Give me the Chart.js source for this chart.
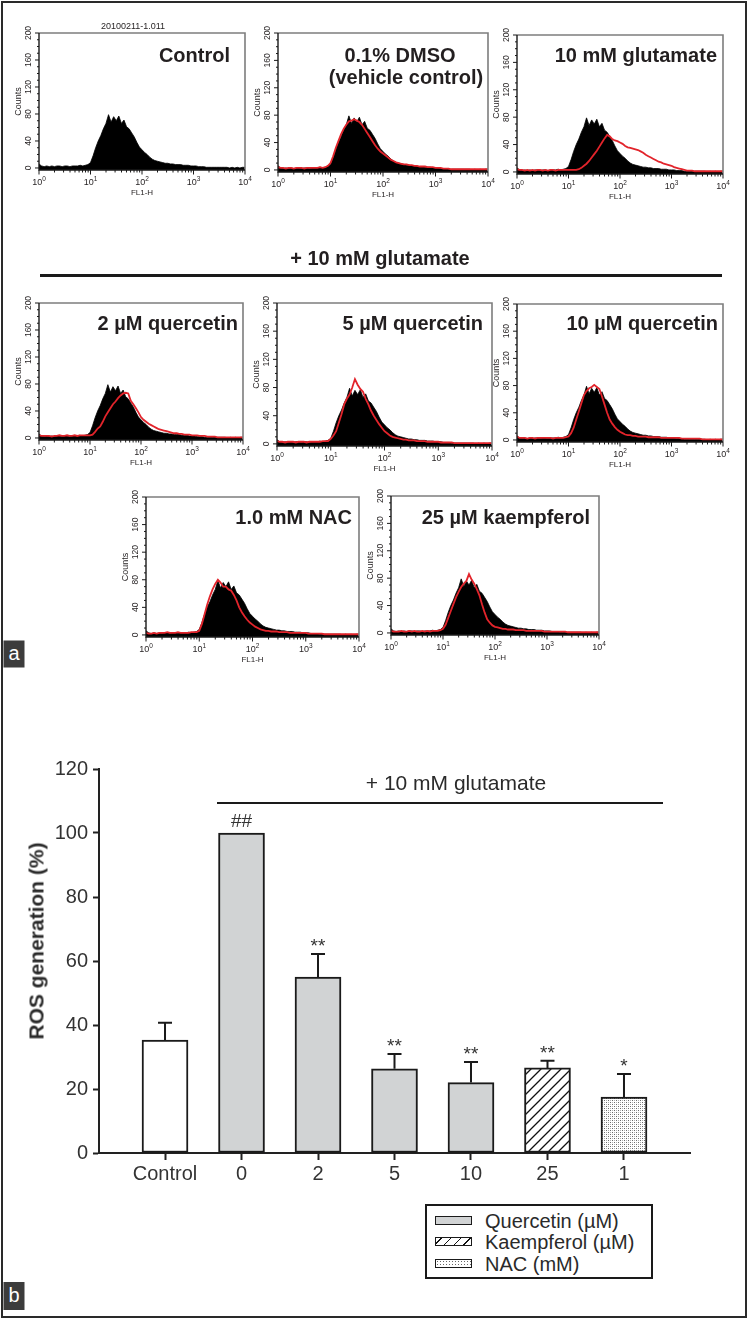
<!DOCTYPE html>
<html><head><meta charset="utf-8">
<script src="https://cdn.jsdelivr.net/npm/chart.js@4.4.1/dist/chart.umd.min.js"></script>
<style>
body{margin:0;background:#fff;}
#page{position:relative;width:748px;height:1320px;overflow:hidden;background:#fff;font-family:"Liberation Sans",Arial,sans-serif;color:#231f20;}
canvas{position:absolute;}
.t{position:absolute;white-space:nowrap;line-height:1;}
.c{transform:translate(-50%,-50%);}
.r{transform:translateY(-50%);}
.lab{font-weight:bold;font-size:20px;}
.sw{position:absolute;width:35px;height:7px;border:1.5px solid #1a1a1a;}
.lg{position:absolute;font-size:20px;line-height:1;white-space:nowrap;color:#2a2a2a;transform:translateY(-50%);}
</style></head><body><div id="page">
<div style="position:absolute;left:1px;top:1px;width:742px;height:1313px;border:2px solid #2a2a2a;"></div>

<canvas id="h1"></canvas><canvas id="h2"></canvas><canvas id="h3"></canvas>
<canvas id="h4"></canvas><canvas id="h5"></canvas><canvas id="h6"></canvas>
<canvas id="h7"></canvas><canvas id="h8"></canvas>
<canvas id="bars" width="748" height="460" style="left:0;top:740px;"></canvas>

<div class="t c" style="left:133px;top:26px;font-size:9px;">20100211-1.011</div>
<div class="t r lab" style="right:518px;top:55px;">Control</div>
<div class="t c lab" style="left:400px;top:55px;">0.1% DMSO</div>
<div class="t c lab" style="left:406px;top:77px;">(vehicle control)</div>
<div class="t r lab" style="right:31px;top:55px;">10 mM glutamate</div>
<div class="t r lab" style="right:510px;top:323px;">2 µM quercetin</div>
<div class="t r lab" style="right:265px;top:323px;">5 µM quercetin</div>
<div class="t r lab" style="right:30px;top:323px;">10 µM quercetin</div>
<div class="t r lab" style="right:396px;top:517px;">1.0 mM NAC</div>
<div class="t r lab" style="right:158px;top:517px;">25 µM kaempferol</div>

<div class="t c" style="left:380px;top:258px;font-size:20px;font-weight:bold;">+ 10 mM glutamate</div>
<div style="position:absolute;left:40px;top:274px;width:682px;height:3px;background:#1a1a1a;"></div>

<div class="t c" style="left:14px;top:654px;width:21px;height:27px;background:#3c3c3c;color:#fff;font-size:20px;line-height:25px;text-align:center;">a</div>
<div class="t c" style="left:14px;top:1296px;width:21px;height:28px;background:#3c3c3c;color:#fff;font-size:20px;line-height:26px;text-align:center;">b</div>

<div class="t c" style="left:456px;top:782px;font-size:21px;color:#2a2a2a;">+ 10 mM glutamate</div>
<div style="position:absolute;left:217px;top:802px;width:446px;height:2px;background:#1a1a1a;"></div>
<div class="t" style="left:36px;top:941px;font-size:21px;font-weight:bold;color:#2a2a2a;transform:translate(-50%,-50%) rotate(-90deg);">ROS generation (%)</div>

<div style="position:absolute;left:425px;top:1204px;width:224px;height:71px;border:2px solid #1a1a1a;"></div>
<div class="sw" style="left:435px;top:1216px;background:#d1d3d4;"></div>
<div class="sw" style="left:435px;top:1237px;background:repeating-linear-gradient(135deg,#fff 0 3px,#111 3px 4.3px,#fff 4.3px 7px);"></div>
<div class="sw" style="left:435px;top:1259px;background-color:#fff;background-image:radial-gradient(#666 0.6px,transparent 0.9px);background-size:3px 3px;"></div>
<div class="lg" style="left:485px;top:1221px;">Quercetin (µM)</div>
<div class="lg" style="left:485px;top:1242px;">Kaempferol (µM)</div>
<div class="lg" style="left:485px;top:1264px;">NAC (mM)</div>
</div>

<script>
// ---------- Panel a: flow cytometry histograms (FL1-H, log10 decades) ----------
const fl1Exponents = [0,0.05,0.1,0.15,0.2,0.25,0.3,0.35,0.4,0.45,0.5,0.55,0.6,0.65,0.7,0.75,0.8,0.85,0.9,0.95,
  1,1.05,1.1,1.15,1.2,1.25,1.3,1.35,1.4,1.45,1.5,1.55,1.6,1.65,1.7,1.75,1.8,1.85,1.9,1.95,
  2,2.05,2.1,2.15,2.2,2.25,2.3,2.35,2.4,2.45,2.5,2.55,2.6,2.65,2.7,2.75,2.8,2.85,2.9,2.95,
  3,3.05,3.1,3.15,3.2,3.25,3.3,3.35,3.4,3.45,3.5,3.55,3.6,3.65,3.7,3.75,3.8,3.85,3.9,3.95,4];

const controlCounts = [6,3,2,3,2,3,2,3,3,2, 3,3,2,3,3,3,4,3,4,5,
  8,18,30,40,48,58,66,79,68,76, 70,77,66,71,61,58,52,46,38,31,
  27,23,20,16,13,11,10,9,8,7, 7,6,6,5,5,5,4,4,4,3,
  3,3,2,2,2,1,1,1,1,1, 1,1,1,1,0,1,0,1,0,1,1];
const dmsoCounts = [4,3,3,2,3,3,2,3,3,3, 2,3,3,3,3,3,4,3,4,6,
  10,20,32,42,52,60,66,71,72,74, 72,70,66,60,54,48,42,36,31,27,
  24,21,18,15,13,11,10,9,8,8, 7,7,6,6,5,5,5,4,4,4,
  3,3,3,2,2,2,1,1,1,1, 1,1,1,1,1,1,1,1,1,1,1];
const glutamateCounts = [4,3,3,2,3,2,3,2,3,3, 2,3,2,3,3,2,3,3,3,3,
  3,3,3,3,4,6,9,12,16,21, 26,31,37,43,49,54,52,48,46,45,
  43,41,38,36,35,34,33,32,30,28, 25,23,21,19,17,15,14,12,11,10,
  9,7,6,5,4,3,2,2,2,1, 1,1,1,1,1,1,1,1,1,1,1];
const quercetin2Counts = [4,3,3,3,3,2,3,3,4,3, 3,4,3,3,4,3,4,4,4,4,
  4,5,9,14,17,24,32,38,44,50, 54,59,63,66,67,66,55,50,44,38,
  31,27,24,21,19,17,15,13,12,11, 10,9,8,7,7,6,6,5,5,5,
  4,4,4,3,3,3,2,2,2,2, 1,1,1,1,1,1,1,1,1,1,1];
const quercetin5Counts = [4,3,3,2,3,3,3,2,3,3, 3,2,3,3,3,3,3,4,4,4,
  7,12,18,30,42,56,64,70,80,92, 84,78,74,64,56,47,40,34,28,23,
  18,15,12,10,9,8,7,6,6,5, 5,5,4,4,4,4,3,3,3,3,
  3,2,2,2,2,2,1,1,1,1, 1,1,1,1,1,1,1,1,1,1,1];
const quercetin10Counts = [5,3,3,3,2,3,3,2,3,3, 3,3,3,3,2,3,3,3,3,4,
  5,10,18,30,42,54,66,72,76,78, 81,78,75,64,52,40,30,24,19,15,
  12,10,8,7,7,6,6,5,5,5, 5,4,4,4,4,4,3,3,3,3,
  3,3,3,3,2,2,2,2,2,2, 2,2,1,1,1,1,1,1,1,1,1];
const nacCounts = [3,2,2,3,2,3,3,3,4,3, 3,3,4,3,3,3,3,4,4,4,
  6,16,30,44,56,66,74,80,76,70, 70,66,64,58,50,40,33,27,22,18,
  15,12,10,8,7,6,6,5,5,5, 4,4,4,4,3,3,3,3,3,3,
  3,2,2,2,2,2,2,1,1,1, 1,1,1,1,1,1,1,1,1,1,1];
const kaempferolCounts = [3,2,2,2,3,2,2,3,2,3, 2,2,3,2,3,2,3,3,3,4,
  6,12,22,32,42,52,60,67,72,76, 86,78,72,64,55,42,30,20,15,11,
  9,8,7,6,6,5,5,5,4,4, 4,4,3,3,3,3,3,3,3,2,
  2,2,2,2,2,2,2,2,1,1, 1,1,1,1,1,1,1,1,1,1,1];

const histXTicks = [1,10,100,1000,10000];
const histXExp = ['0','1','2','3','4'];
const histYTicks = [0,40,80,120,160,200];

// ---------- Panel b: ROS generation ----------
const categories = ['Control','0','2','5','10','25','1'];
const rosMean = [35.3, 100, 55, 26.3, 22, 26.6, 17.5];
const rosSD = [5.4, 0, 7.2, 4.6, 6.4, 2.2, 7.2];
const sigLabels = ['', '##', '**', '**', '**', '**', '*'];
const yTicksB = [0,20,40,60,80,100,120];

const FONT = '"Liberation Sans", Arial, sans-serif';

const histAxesPlugin = {
  id:'histAxes',
  afterDraw(chart){
    const {ctx, chartArea:a, scales:{x,y}} = chart;
    ctx.save();
    ctx.strokeStyle='#7d7d7d'; ctx.lineWidth=1.6;
    ctx.beginPath(); ctx.moveTo(a.left,a.top); ctx.lineTo(a.right,a.top); ctx.lineTo(a.right,a.bottom); ctx.stroke();
    ctx.strokeStyle='#1a1a1a'; ctx.lineWidth=1.4;
    ctx.beginPath(); ctx.moveTo(a.left,a.top); ctx.lineTo(a.left,a.bottom); ctx.lineTo(a.right,a.bottom); ctx.stroke();
    ctx.lineWidth=1;
    for(let d=0; d<4; d++){
      for(let m=1; m<10; m++){
        const px=x.getPixelForValue(m*Math.pow(10,d));
        const len=m===1?4.5:2.5;
        ctx.beginPath(); ctx.moveTo(px,a.bottom); ctx.lineTo(px,a.bottom+len); ctx.stroke();
      }
    }
    const pEnd=x.getPixelForValue(10000);
    ctx.beginPath(); ctx.moveTo(pEnd,a.bottom); ctx.lineTo(pEnd,a.bottom+4.5); ctx.stroke();
    for(let v=0; v<=200; v+=10){
      const py=y.getPixelForValue(v);
      const len=(v%40===0)?4:2;
      ctx.beginPath(); ctx.moveTo(a.left,py); ctx.lineTo(a.left-len,py); ctx.stroke();
    }
    ctx.fillStyle='#231f20'; ctx.textBaseline='middle'; ctx.textAlign='left';
    histXTicks.forEach((v,i)=>{
      const px=x.getPixelForValue(v);
      ctx.font='9px '+FONT; const w=ctx.measureText('10').width;
      ctx.font='6.5px '+FONT; const we=ctx.measureText(histXExp[i]).width;
      const sx=px-(w+we)/2;
      ctx.font='9px '+FONT; ctx.fillText('10',sx,a.bottom+13);
      ctx.font='6.5px '+FONT; ctx.fillText(histXExp[i],sx+w,a.bottom+9);
    });
    ctx.textAlign='center';
    ctx.font='8px '+FONT; ctx.fillText('FL1-H',(a.left+a.right)/2,a.bottom+23);
    histYTicks.forEach(v=>{
      const py=y.getPixelForValue(v);
      ctx.save(); ctx.translate(a.left-10,py); ctx.rotate(-Math.PI/2);
      ctx.font='8.5px '+FONT; ctx.fillText(String(v),0,0); ctx.restore();
    });
    ctx.save(); ctx.translate(a.left-20,(a.top+a.bottom)/2); ctx.rotate(-Math.PI/2);
    ctx.font='9px '+FONT; ctx.fillText('Counts',0,0); ctx.restore();
    ctx.restore();
  }
};

function toPts(arr){ return fl1Exponents.map((e,i)=>({x:Math.pow(10,e), y:arr[i]})); }

function histChart(id, box, redCounts){
  const [L,T,R,B]=box;
  const pl=Math.min(40,L-1), pt=20, pr=8, pb=32;
  const cv=document.getElementById(id);
  cv.width=(R-L)+pl+pr; cv.height=(B-T)+pt+pb;
  cv.style.left=(L-pl)+'px'; cv.style.top=(T-pt)+'px';
  const ds=[];
  if(redCounts){
    ds.push({data:toPts(redCounts), borderColor:'#e2242b', borderWidth:1.8, pointRadius:0, fill:false, tension:0, order:0});
  }
  ds.push({data:toPts(controlCounts), borderColor:'#000', borderWidth:0.8, backgroundColor:'#000', fill:'start', pointRadius:0, tension:0, order:1});
  new Chart(cv,{
    type:'line',
    data:{datasets:ds},
    options:{
      responsive:false, animation:false, events:[],
      layout:{padding:{left:pl,top:pt,right:pr,bottom:pb}},
      plugins:{legend:{display:false}, tooltip:{enabled:false}},
      scales:{
        x:{type:'logarithmic', min:1, max:10000, display:false},
        y:{type:'linear', min:-3, max:200, display:false}
      }
    },
    plugins:[histAxesPlugin]
  });
}

histChart('h1',[39,33,245,170],null);
histChart('h2',[278,33,488,172],dmsoCounts);
histChart('h3',[517,35,723,174],glutamateCounts);
histChart('h4',[39,303,243,440],quercetin2Counts);
histChart('h5',[277,303,492,446],quercetin5Counts);
histChart('h6',[517,304,723,442],quercetin10Counts);
histChart('h7',[146,497,359,637],nacCounts);
histChart('h8',[391,496,599,635],kaempferolCounts);

// ---------- bar chart ----------
function hatchPattern(){
  const c=document.createElement('canvas'); c.width=10; c.height=10;
  const g=c.getContext('2d');
  g.fillStyle='#fff'; g.fillRect(0,0,10,10);
  g.strokeStyle='#111'; g.lineWidth=1.3;
  g.beginPath(); g.moveTo(-1,11); g.lineTo(11,-1); g.moveTo(-3,3); g.lineTo(3,-3); g.moveTo(7,13); g.lineTo(13,7); g.stroke();
  return g.createPattern(c,'repeat');
}
function stipplePattern(){
  const c=document.createElement('canvas'); c.width=4; c.height=4;
  const g=c.getContext('2d');
  g.fillStyle='#fff'; g.fillRect(0,0,4,4);
  g.fillStyle='#6a6a6a'; g.fillRect(0,0,1,1); g.fillRect(2,2,1,1);
  g.fillStyle='#b0b0b0'; g.fillRect(2,0,1,1); g.fillRect(0,2,1,1);
  return g.createPattern(c,'repeat');
}
const grayFill='#d1d3d4';
const barFills=['#ffffff',grayFill,grayFill,grayFill,grayFill,hatchPattern(),stipplePattern()];

const errorBarPlugin={
  id:'errBars',
  afterDatasetsDraw(chart){
    const {ctx, scales:{x,y}}=chart;
    ctx.save(); ctx.strokeStyle='#1a1a1a'; ctx.lineWidth=2;
    rosMean.forEach((m,i)=>{
      const px=x.getPixelForValue(i);
      const top=y.getPixelForValue(m+rosSD[i]);
      if(rosSD[i]>0){
        ctx.beginPath(); ctx.moveTo(px,y.getPixelForValue(m)); ctx.lineTo(px,top);
        ctx.moveTo(px-7,top); ctx.lineTo(px+7,top); ctx.stroke();
      }
      const s=sigLabels[i];
      if(s){
        ctx.fillStyle='#333'; ctx.font='19px '+FONT; ctx.textAlign='center'; ctx.textBaseline='alphabetic';
        ctx.fillText(s, px, s.indexOf('#')>=0 ? top-6 : top-2);
      }
    });
    ctx.restore();
  }
};

new Chart(document.getElementById('bars'),{
  type:'bar',
  data:{datasets:[{
    data:categories.map((c,i)=>({x:i,y:rosMean[i]})),
    backgroundColor:barFills, borderColor:'#1a1a1a', borderWidth:2, borderSkipped:false, barThickness:46
  }]},
  options:{
    responsive:false, animation:false, events:[],
    layout:{padding:{left:20,top:29,right:58,bottom:0}},
    plugins:{legend:{display:false}, tooltip:{enabled:false}},
    scales:{
      x:{type:'linear', min:-0.863, max:6.863, offset:false,
        afterBuildTicks:s=>{ s.ticks=categories.map((c,i)=>({value:i})); },
        afterFit:s=>{ s.height=47; },
        ticks:{callback:v=>categories[v]??'', font:{size:20,family:FONT}, color:'#333', padding:2, maxRotation:0, autoSkip:false},
        grid:{drawOnChartArea:false, offset:false, tickLength:7, tickWidth:2, tickColor:'#222'},
        border:{display:true, width:2, color:'#222'}
      },
      y:{min:0, max:120,
        afterBuildTicks:s=>{ s.ticks=yTicksB.map(v=>({value:v})); },
        afterFit:s=>{ s.width=79; },
        ticks:{font:{size:20,family:FONT}, color:'#333', padding:5},
        grid:{drawOnChartArea:false, tickLength:6, tickWidth:2, tickColor:'#222'},
        border:{display:true, width:2, color:'#222'}
      }
    }
  },
  plugins:[errorBarPlugin]
});
</script>
</body></html>
